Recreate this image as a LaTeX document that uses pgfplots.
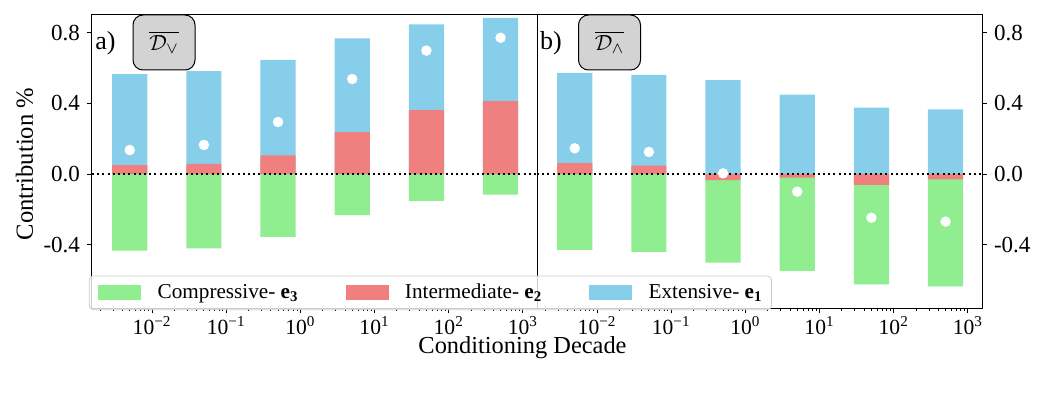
\documentclass[border=0pt]{standalone}
\usepackage{fontspec}
\setmainfont{Liberation Serif}
\usepackage{pgfplots}
\usepackage{pgfplotstable}
\pgfplotsset{compat=1.18}

\definecolor{cgreen}{HTML}{90EE90}
\definecolor{cred}{HTML}{F08080}
\definecolor{cblue}{HTML}{87CEEB}
\definecolor{boxgray}{HTML}{D3D3D3}

% bar centres, blue (up), red, green (lower end), white dot
\pgfplotstableread{
x     blue   red     green   dot
0.005 0.567  0.051  -0.435   0.136
0.05  0.583  0.058  -0.422   0.165
0.5   0.647  0.106  -0.356   0.295
5     0.770  0.237  -0.233   0.539
50    0.849  0.363  -0.153   0.700
500   0.885  0.414  -0.117   0.773
}\tabvee
\pgfplotstableread{
x     blue   red     green   dot
0.005 0.573  0.062  -0.431   0.146
0.05  0.562  0.047  -0.441   0.125
0.5   0.532 -0.034  -0.503   0.004
5     0.450 -0.021  -0.550  -0.100
50    0.376 -0.062  -0.626  -0.248
500   0.367 -0.030  -0.637  -0.270
}\tabwedge

\pgfplotsset{
  panel/.style={
    scale only axis, width=222.5pt, height=146.5pt,
    xmin=0.00155, xmax=1549, ymin=-0.76, ymax=0.902,
    xtick={0.01,0.1,1,10,100,1000},
    xticklabels={10\textsuperscript{−2},10\textsuperscript{−1},10\textsuperscript{0},10\textsuperscript{1},10\textsuperscript{2},10\textsuperscript{3}},
    minor xtick={0.002,0.003,0.004,0.005,0.006,0.007,0.008,0.009,
      0.02,0.03,0.04,0.05,0.06,0.07,0.08,0.09,
      0.2,0.3,0.4,0.5,0.6,0.7,0.8,0.9,
      2,3,4,5,6,7,8,9,20,30,40,50,60,70,80,90,
      200,300,400,500,600,700,800,900},
    ytick={-0.4,0,0.4,0.8}, yticklabels={-0.4,0.0,0.4,0.8},
    xtick pos=left,
    tick align=outside,
    major tick length=2.5pt, minor tick length=1.5pt,
    tick style={black, line width=0.5pt},
    axis line style={line width=0.5pt},
    yticklabel style={font=\fontsize{11.5}{13}\selectfont},
    xticklabel style={font=\fontsize{10.8}{13}\selectfont, yshift=1.8pt, text depth=0pt},
  },
  seg/.style={ybar, bar width=17.6pt, bar shift=0pt, draw=none, fill=#1, forget plot},
  dots/.style={only marks, mark=*, mark size=2.4pt, draw=white, fill=white, forget plot},
  zero/.style={black, line width=1pt, dash pattern=on 1pt off 1.6pt, forget plot},
}

\begin{document}
\begin{tikzpicture}
\useasboundingbox (0,0) rectangle (522.5pt,198.5pt);

% right panel first, so the legend of the left one lies over it
\begin{semilogxaxis}[panel, at={(268.5pt,44.5pt)}, anchor=south west, ytick pos=right]
\addplot[seg=cblue] table[x=x, y=blue] {\tabwedge};
\addplot[seg=cgreen] table[x=x, y=green] {\tabwedge};
\addplot[seg=cred] table[x=x, y=red] {\tabwedge};
\addplot[zero] coordinates {(0.00155,0) (1549,0)};
\addplot[dots] table[x=x, y=dot] {\tabwedge};
\end{semilogxaxis}

\begin{semilogxaxis}[panel, at={(46pt,44.5pt)}, anchor=south west, ytick pos=left,
  legend columns=3,
  legend style={at={(axis description cs:-0.007,-0.007)}, anchor=south west,
    draw=black!20, rounded corners=2pt, fill=white, fill opacity=0.8, text opacity=1,
    font=\fontsize{10.6}{12}\selectfont, inner xsep=4.5pt, inner ysep=4pt,
    nodes={inner sep=0pt},
    /tikz/every odd column/.append style={column sep=8.3pt},
    /tikz/every even column/.append style={column sep=23.5pt}},
]
\addplot[seg=cblue] table[x=x, y=blue] {\tabvee};
\addplot[seg=cgreen] table[x=x, y=green] {\tabvee};
\addplot[seg=cred] table[x=x, y=red] {\tabvee};
\addplot[zero] coordinates {(0.00155,0) (1549,0)};
\addplot[dots] table[x=x, y=dot] {\tabvee};
\addlegendimage{legend image code/.code={\fill[cgreen, sharp corners, fill opacity=1] (0pt,-3.5pt) rectangle (21pt,3.5pt);}}
\addlegendentry{Compressive- $\mathbf{e}_{\mathbf{3}}$}
\addlegendimage{legend image code/.code={\fill[cred, sharp corners, fill opacity=1] (0pt,-3.5pt) rectangle (21pt,3.5pt);}}
\addlegendentry{Intermediate- $\mathbf{e}_{\mathbf{2}}$}
\addlegendimage{legend image code/.code={\fill[cblue, sharp corners, fill opacity=1] (0pt,-3.5pt) rectangle (21pt,3.5pt);}}
\addlegendentry{Extensive- $\mathbf{e}_{\mathbf{1}}$}
\end{semilogxaxis}

\node[font=\fontsize{13}{15}\selectfont] at (52.75pt,177pt) {a)};
\node[font=\fontsize{13}{15}\selectfont] at (275.5pt,177pt) {b)};
\node[draw=black, line width=0.5pt, fill=boxgray, rounded corners=5pt,
  minimum width=31pt, minimum height=27.5pt, inner sep=0pt, font=\fontsize{11}{13}\selectfont]
  at (82pt,177.25pt) {$\overline{\mathcal{D}_\vee}$};
\node[draw=black, line width=0.5pt, fill=boxgray, rounded corners=5pt,
  minimum width=31pt, minimum height=27.5pt, inner sep=0pt, font=\fontsize{11}{13}\selectfont]
  at (304.75pt,177.25pt) {$\overline{\mathcal{D}_\wedge}$};

\node[rotate=90, inner sep=0pt, font=\fontsize{12.3}{14}\selectfont] at (12.25pt,116.5pt) {Contribution \%};
\node[anchor=base, inner sep=0pt, font=\fontsize{12.2}{14}\selectfont] at (261.25pt,21.6pt) {Conditioning Decade};
\end{tikzpicture}
\end{document}
